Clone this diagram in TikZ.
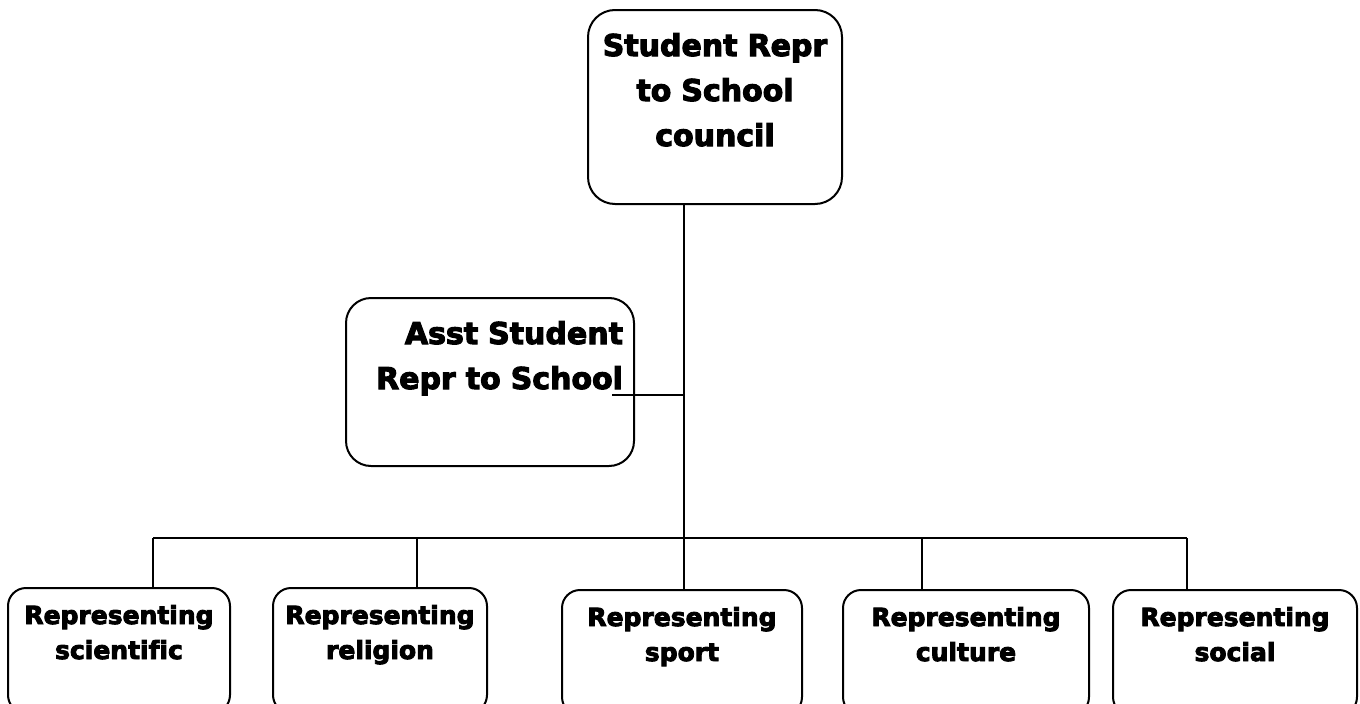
\documentclass[tikz,border=0pt]{standalone}
\usepackage{fontspec}
\setmainfont{DejaVu Sans}[BoldFont={DejaVu Sans Bold},BoldFeatures={FakeBold=3.5},Ligatures=NoCommon]
\begin{document}
\begin{tikzpicture}[x=1pt,y=-1pt,
  box/.style={draw=black,line width=2pt,inner sep=0pt,font=\bfseries},
  bigtext/.style={font=\fontsize{30}{45}\selectfont\bfseries},
  smalltext/.style={font=\fontsize{25}{35}\selectfont\bfseries},
  conn/.style={draw=black,line width=1.6pt}]
\clip (0,0) rectangle (1360,704);
\fill[white] (0,0) rectangle (1360,704);
% top box
\node[box,bigtext,rounded corners=27pt,anchor=north west,text width=254pt,align=center,
  text height=46pt,text depth=148pt] (top) at (587,9) {Student Repr\\to School\\council};
% assistant box
\node[box,bigtext,rounded corners=25pt,anchor=north west,inner xsep=11pt,text width=266pt,align=right,
  text height=46pt,text depth=122pt] (asst) at (345,297) {Asst Student\\Repr to School};
% bottom boxes
\tikzset{bot/.style={box,smalltext,rounded corners=18pt,anchor=north,align=center,text height=36pt,text depth=89pt}}
\node[bot,text width=222pt] (sci) at (119,587) {Representing\\scientific};
\node[bot,text width=214pt] (rel) at (380,587) {Representing\\religion};
\node[bot,text width=240pt] (spo) at (682,589) {Representing\\sport};
\node[bot,text width=246pt] (cul) at (966,589) {Representing\\culture};
\node[bot,text width=244pt] (soc) at (1235,589) {Representing\\social};
% bus coordinates
\coordinate (b1) at (153,538);
\coordinate (b2) at (417,538);
\coordinate (b3) at (684,538);
\coordinate (b4) at (922,538);
\coordinate (b5) at (1187,538);
\coordinate (aend) at (612,395);
% connectors
\draw[conn] (top.south -| b3) -- (b3 |- spo.north);
\draw[conn] (b1) -- (b5);
\draw[conn] (b1) -- (b1 |- sci.north);
\draw[conn] (b2) -- (b2 |- rel.north);
\draw[conn] (b4) -- (b4 |- cul.north);
\draw[conn] (b5) -- (b5 |- soc.north);
\draw[conn] (aend) -- (aend -| b3);
\end{tikzpicture}
\end{document}
